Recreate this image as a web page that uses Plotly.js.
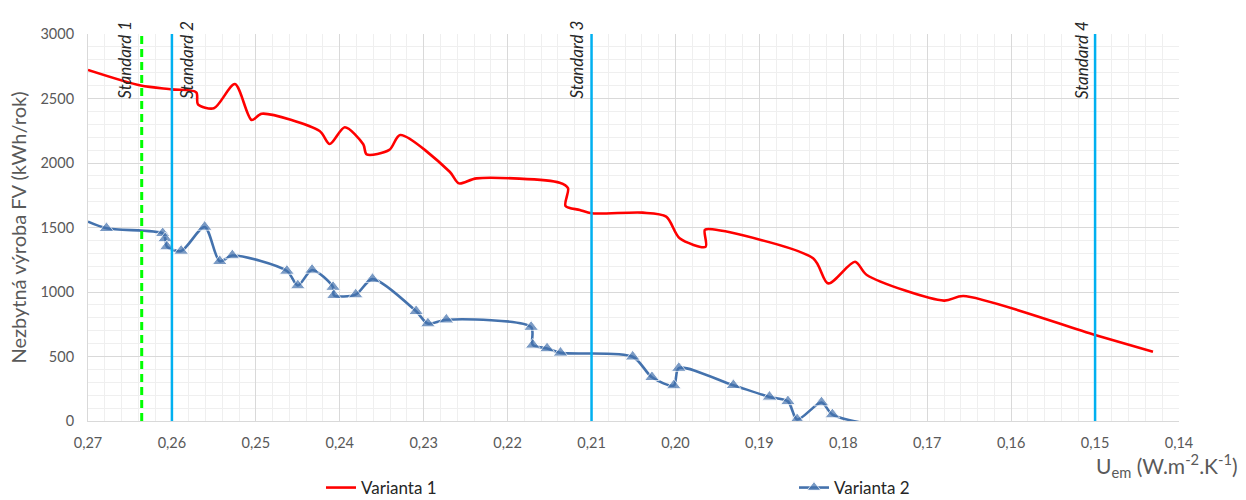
<!DOCTYPE html>
<html>
<head>
<meta charset="utf-8">
<script src="https://cdn.plot.ly/plotly-3.0.1.min.js"></script>
<style>body{margin:0;padding:0;background:#fff;}#chart{width:1246px;height:500px;}</style>
</head>
<body>
<div id="chart"></div>
<script>
// Varianta 1 (red smooth line)
const v1U = [0.2700, 0.2637, 0.2600, 0.2571, 0.2569, 0.2550, 0.2525, 0.2505, 0.2493, 0.2424, 0.2412, 0.2394, 0.2372, 0.2368, 0.2341, 0.2328, 0.2269, 0.2258, 0.2237, 0.2138, 0.2128, 0.2131, 0.2114, 0.2100, 0.2039, 0.2011, 0.1995, 0.1964, 0.1965, 0.1956, 0.1836, 0.1818, 0.1786, 0.1772, 0.1680, 0.1657, 0.1500, 0.1431];
const v1E = [2721, 2600, 2571, 2548, 2455, 2424, 2612, 2333, 2382, 2248, 2147, 2277, 2145, 2067, 2101, 2217, 1932, 1842, 1881, 1847, 1804, 1667, 1636, 1610, 1615, 1584, 1416, 1351, 1481, 1486, 1261, 1067, 1235, 1132, 933, 969, 667, 537];

// Varianta 2 (blue smooth line with triangles)
const v2U = [0.2700, 0.2678, 0.2611, 0.2608, 0.2606, 0.2589, 0.2561, 0.2543, 0.2528, 0.2463, 0.2450, 0.2433, 0.2408, 0.2407, 0.2381, 0.2361, 0.2309, 0.2295, 0.2273, 0.2172, 0.2170, 0.2153, 0.2137, 0.2051, 0.2028, 0.2002, 0.1996, 0.1931, 0.1888, 0.1866, 0.1855, 0.1826, 0.1813, 0.1760];
const v2E = [1545, 1494, 1455, 1415, 1352, 1318, 1504, 1238, 1283, 1163, 1050, 1171, 1038, 975, 980, 1100, 850, 755, 785, 728, 590, 562, 528, 498, 339, 275, 410, 277, 187, 152, 12, 143, 50, -35];
const v2Marker = [false, true, true, true, true, true, true, true, true, true, true, true, true, true, true, true, true, true, true, true, true, true, true, true, true, true, true, true, true, true, true, true, true, false];

// Standards (vertical reference lines)
const stdNames = ["Standard 1", "Standard 2", "Standard 3", "Standard 4"];
const stdU = [0.2636, 0.26, 0.21, 0.15];

const seriesNames = ["Varianta 1", "Varianta 2"];
const xTickVals = [0.27, 0.26, 0.25, 0.24, 0.23, 0.22, 0.21, 0.20, 0.19, 0.18, 0.17, 0.16, 0.15, 0.14];
const yTickVals = [0, 500, 1000, 1500, 2000, 2500, 3000];

const FONT = "Lato, 'Open Sans', sans-serif";
const stdStyles = [
  {color: "#00FF00", width: 3, dash: "8px,5px"},
  {color: "#00B0F0", width: 2.5, dash: "solid"},
  {color: "#00B0F0", width: 2.5, dash: "solid"},
  {color: "#00B0F0", width: 2.5, dash: "solid"}
];
const stdShift = [-17, 15, -15, -13];

const traces = [
  {x: v1U, y: v1E, name: seriesNames[0], type: "scatter", mode: "lines",
   line: {color: "#FF0000", width: 2.6, shape: "spline", smoothing: 0.8}},
  {x: v2U, y: v2E, name: seriesNames[1], type: "scatter", mode: "lines+markers",
   line: {color: "#4472AD", width: 2.6, shape: "spline", smoothing: 0.8},
   marker: {symbol: "triangle-up", color: "#4472AD", size: v2Marker.map(m => m ? 13 : 0)}}
];

const shapes = stdU.map((u, i) => ({
  type: "line", xref: "x", yref: "paper", x0: u, x1: u, y0: 0, y1: 1,
  line: stdStyles[i], layer: "above"
}));

const annotations = stdNames.map((n, i) => ({
  text: n, xref: "x", yref: "paper", x: stdU[i], y: 0.827,
  xanchor: "center", yanchor: "bottom", textangle: -90, showarrow: false,
  xshift: stdShift[i], font: {family: FONT, size: 17, color: "#262626", style: "italic"}
}));
annotations.push({
  text: "U<sub>em</sub> (W.m<sup>-2</sup>.K<sup>-1</sup>)", xref: "paper", yref: "paper",
  x: 1.056, y: -0.114, xanchor: "right", yanchor: "middle", showarrow: false,
  font: {family: FONT, size: 21, color: "#595959"}
});

const layout = {
  width: 1246, height: 500,
  margin: {l: 88, r: 67, t: 34, b: 79},
  paper_bgcolor: "#fff", plot_bgcolor: "#fff",
  separators: ", ",
  font: {family: FONT, color: "#595959"},
  xaxis: {
    range: [0.27, 0.14], autorange: false,
    tickvals: xTickVals, tickformat: ".2f",
    showgrid: true, gridcolor: "#D9D9D9", gridwidth: 1,
    minor: {dtick: 0.002, tick0: 0.14, showgrid: true, gridcolor: "#EFEFEF", gridwidth: 1},
    showline: true, linecolor: "#D9D9D9", linewidth: 1,
    zeroline: false, ticks: "", ticklabelstandoff: 9,
    tickfont: {family: FONT, size: 14.5, color: "#595959"}
  },
  yaxis: {
    range: [0, 3000], autorange: false,
    tickvals: yTickVals, tickformat: "d",
    showgrid: true, gridcolor: "#D9D9D9", gridwidth: 1,
    minor: {dtick: 100, tick0: 0, showgrid: true, gridcolor: "#EFEFEF", gridwidth: 1},
    showline: true, linecolor: "#D9D9D9", linewidth: 1,
    zeroline: false, ticks: "", ticklabelstandoff: 10,
    tickfont: {family: FONT, size: 14.5, color: "#595959"},
    title: {text: "Nezbytná výroba FV (kWh/rok)", font: {family: FONT, size: 20, color: "#595959"}, standoff: 8}
  },
  showlegend: true,
  legend: {
    orientation: "h", xref: "container", yref: "container",
    x: 321/1246, y: 12/500, xanchor: "left", yanchor: "middle",
    entrywidth: 428, entrywidthmode: "pixels",
    font: {family: FONT, size: 17, color: "#262626"},
    bgcolor: "rgba(0,0,0,0)"
  },
  shapes: shapes,
  annotations: annotations
};

Plotly.newPlot("chart", traces, layout, {displayModeBar: false, staticPlot: true});
</script>
</body>
</html>
